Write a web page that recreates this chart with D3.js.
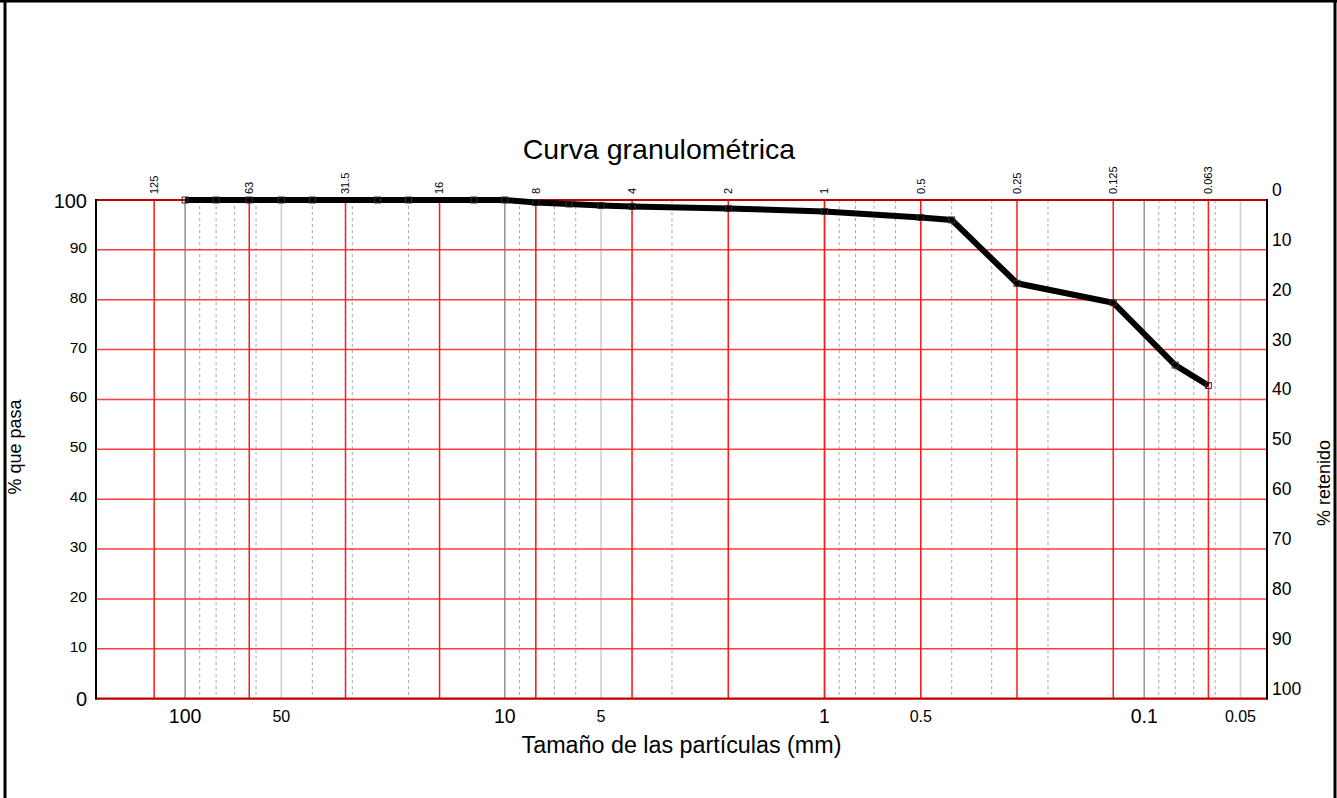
<!DOCTYPE html>
<html>
<head>
<meta charset="utf-8">
<script src="https://cdn.jsdelivr.net/npm/d3@7"></script>
<style>
  html, body { margin: 0; padding: 0; background: #fff; }
  svg { display: block; }
  text { font-family: Arial, "Liberation Sans", sans-serif; fill: #000; }
</style>
</head>
<body>
<script>
// ---- Data ----
const sizes   = [100, 80, 63, 50, 40, 25, 20, 12.5, 10, 8, 6.3, 5, 4, 2, 1, 0.5, 0.4, 0.25, 0.125, 0.08, 0.063];
const passing = [100, 100, 100, 100, 100, 100, 100, 100, 100, 99.5, 99.2, 98.9, 98.7, 98.3, 97.7, 96.5, 96.0, 83.3, 79.4, 66.9, 62.8];
const sieveLabels = [125, 63, 31.5, 16, 8, 4, 2, 1, 0.5, 0.25, 0.125, 0.063];
const decadeLines = [100, 10, 1, 0.1];
const halfLines   = [50, 5, 0.5, 0.05];
const bottomLabels = [100, 50, 10, 5, 1, 0.5, 0.1, 0.05];
const yTicks = [0, 10, 20, 30, 40, 50, 60, 70, 80, 90, 100];
const title = "Curva granulométrica";
const xTitle = "Tamaño de las partículas (mm)";
const yTitleLeft = "% que pasa";
const yTitleRight = "% retenido";

const W = 1337, H = 798;
const plot = { left: 96, right: 1267, top: 200, bottom: 698.7 };

const svg = d3.select("body").append("svg").attr("width", W).attr("height", H);

const x = d3.scaleLog().domain([190, 0.0413]).range([plot.left, plot.right]);
const y = d3.scaleLinear().domain([0, 100]).range([plot.bottom, plot.top]);
const yR = d3.scaleLinear().domain([100, 0]).range([plot.bottom, plot.top]);

// outer border
svg.append("line").attr("x1", 5).attr("x2", 5).attr("y1", 0).attr("y2", H).attr("stroke", "#000").attr("stroke-width", 3);
svg.append("line").attr("x1", 1335).attr("x2", 1335).attr("y1", 0).attr("y2", H).attr("stroke", "#000").attr("stroke-width", 3);
svg.append("line").attr("x1", 0).attr("x2", W).attr("y1", 1).attr("y2", 1).attr("stroke", "#000").attr("stroke-width", 3);

const g = svg.append("g");

// minor dashed gridlines from the scale's log ticks
const isDigit = (v, d) => Math.abs(v / Math.pow(10, Math.floor(Math.log10(v) + 1e-9)) - d) < 1e-6;
const minor = x.ticks().filter(v => !isDigit(v, 1) && !isDigit(v, 5));
g.selectAll(".minor").data(minor).enter().append("line")
  .attr("x1", d => x(d)).attr("x2", d => x(d))
  .attr("y1", plot.top).attr("y2", plot.bottom)
  .attr("stroke", "#a8a8a8").attr("stroke-width", 1).attr("stroke-dasharray", "3,3");

g.selectAll(".half").data(halfLines).enter().append("line")
  .attr("x1", d => x(d)).attr("x2", d => x(d))
  .attr("y1", plot.top).attr("y2", plot.bottom)
  .attr("stroke", "#cfcfcf").attr("stroke-width", 1.6);

g.selectAll(".dec").data(decadeLines).enter().append("line")
  .attr("x1", d => x(d)).attr("x2", d => x(d))
  .attr("y1", plot.top).attr("y2", plot.bottom)
  .attr("stroke", "#999").attr("stroke-width", 1.6);

// horizontal red gridlines
g.selectAll(".hgrid").data(yTicks.filter(v => v > 0 && v < 100)).enter().append("line")
  .attr("x1", plot.left).attr("x2", plot.right)
  .attr("y1", d => y(d)).attr("y2", d => y(d))
  .attr("stroke", "#ff3d3d").attr("stroke-width", 1.5);

// red sieve verticals
g.selectAll(".sieve").data(sieveLabels).enter().append("line")
  .attr("x1", d => x(d)).attr("x2", d => x(d))
  .attr("y1", plot.top).attr("y2", plot.bottom)
  .attr("stroke", "#ff1a1a").attr("stroke-width", 1.5);

// top & bottom dark red edges
[0, 100].forEach(v => {
  g.append("line").attr("x1", plot.left).attr("x2", plot.right)
    .attr("y1", y(v)).attr("y2", y(v))
    .attr("stroke", "#c00000").attr("stroke-width", 2.2);
});

// axes lines (left and right)
g.append("line").attr("x1", plot.left).attr("x2", plot.left).attr("y1", plot.top - 1).attr("y2", plot.bottom + 1).attr("stroke", "#000").attr("stroke-width", 2);
g.append("line").attr("x1", plot.right).attr("x2", plot.right).attr("y1", plot.top - 1).attr("y2", plot.bottom + 1).attr("stroke", "#000").attr("stroke-width", 2);

// top sieve labels (rotated)
g.selectAll(".slab").data(sieveLabels).enter().append("text")
  .attr("transform", d => `translate(${x(d)},${plot.top - 6}) rotate(-90)`)
  .attr("dy", "0.35em")
  .attr("text-anchor", "start")
  .style("font-size", "11px")
  .text(d => d);

// bottom labels
g.selectAll(".blab").data(bottomLabels).enter().append("text")
  .attr("x", d => x(d))
  .attr("y", d => decadeLines.includes(d) ? plot.bottom + 24.5 : plot.bottom + 23)
  .attr("text-anchor", "middle")
  .style("font-size", d => decadeLines.includes(d) ? "19.5px" : "16px")
  .text(d => d);

// left labels
g.selectAll(".llab").data(yTicks).enter().append("text")
  .attr("x", plot.left - 9)
  .attr("y", d => (d === 0 || d === 100) ? y(d) + 7.5 : y(d) + 3)
  .attr("text-anchor", "end")
  .style("font-size", d => (d === 0 || d === 100) ? "20px" : "15.5px")
  .text(d => d);

// right labels (% retenido)
g.selectAll(".rlab").data(yTicks).enter().append("text")
  .attr("x", plot.right + 5)
  .attr("y", d => yR(d) - 4)
  .attr("text-anchor", "start")
  .style("font-size", "17.5px")
  .text(d => d);

// titles
svg.append("text").attr("x", 659).attr("y", 159).attr("text-anchor", "middle")
  .style("font-size", "28.5px").text(title);
svg.append("text").attr("x", (plot.left + plot.right) / 2).attr("y", 753).attr("text-anchor", "middle")
  .style("font-size", "23.3px").text(xTitle);
svg.append("text").attr("transform", `translate(21,${447}) rotate(-90)`).attr("text-anchor", "middle")
  .style("font-size", "18px").text(yTitleLeft);
svg.append("text").attr("transform", `translate(1330,${483}) rotate(-90)`).attr("text-anchor", "middle")
  .style("font-size", "18px").text(yTitleRight);

// data line
const pts = sizes.map((s, i) => ({ s, p: passing[i] }));
const line = d3.line().x(d => x(d.s)).y(d => y(d.p));
g.append("path").datum(pts).attr("d", line)
  .attr("fill", "none").attr("stroke", "#000").attr("stroke-width", 6)
  .attr("stroke-linejoin", "miter");

// markers
g.selectAll(".mk").data(pts).enter().append("rect")
  .attr("x", d => x(d.s) - 3).attr("y", d => y(d.p) - 3)
  .attr("width", 6).attr("height", 6)
  .attr("fill", "none").attr("stroke", "#333").attr("stroke-width", 1);
</script>
</body>
</html>
